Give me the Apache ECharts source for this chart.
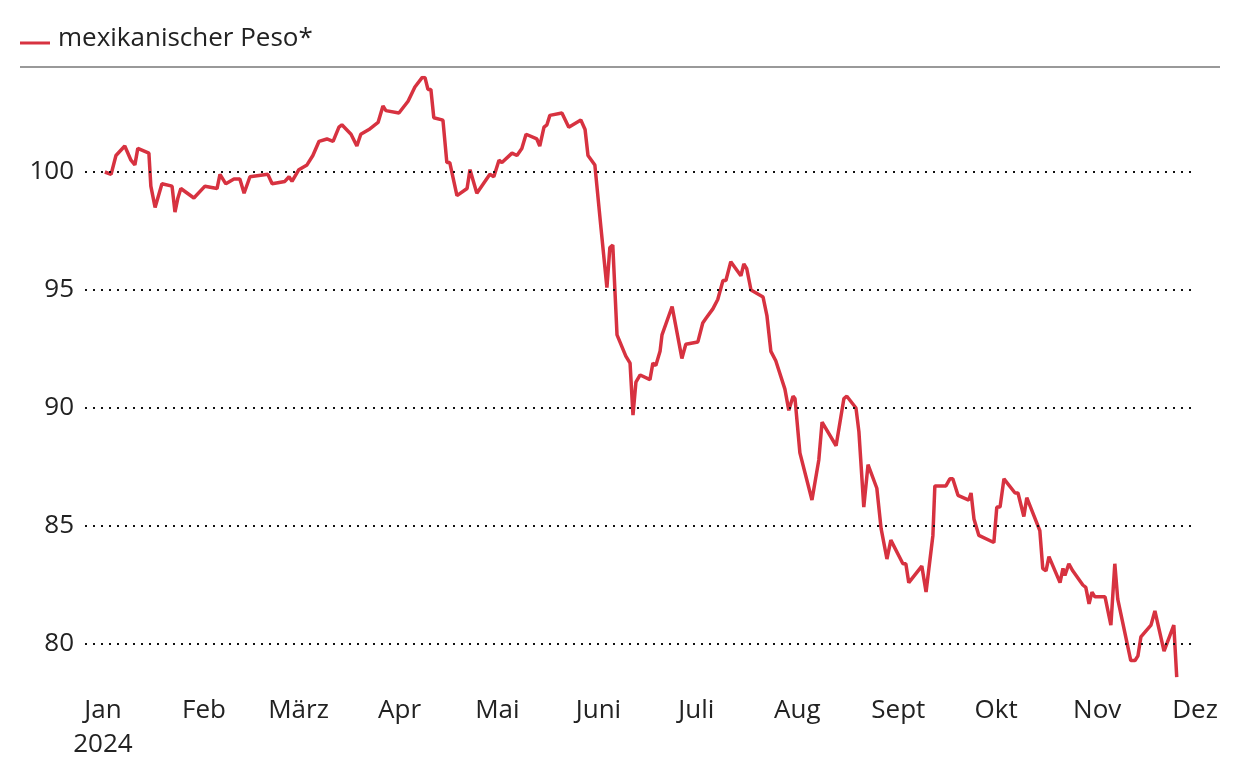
<!DOCTYPE html>
<html>
<head>
<meta charset="utf-8">
<script src="https://cdn.jsdelivr.net/npm/echarts@6/dist/echarts.min.js"></script>
<style>
  html, body { margin: 0; padding: 0; background: #fff; }
  #chart { width: 1240px; height: 782px; }
</style>
</head>
<body>
<div id="chart"></div>
<script>
// Tage seit 1. Jan 2024 und Kurswerte (Index, 1. Jan = 100)
const days = [0.6,2.5,4,6.7,8.6,9.8,10.7,14.1,14.7,16,18.1,21.2,22.1,23,23.9,27.9,31.3,35,35.9,37.7,40.2,42,43.3,45.1,50.6,51.9,55.8,57.1,58,60.1,62.6,64.4,66.3,68.7,70.6,72.4,73.3,76.1,77.9,79.1,81.6,84.4,85.9,86.8,90.8,93.6,95.7,97.9,98.8,99.7,100.6,101.5,104.3,105.5,106.4,108.6,111.7,112.6,114.7,118.7,119.9,121.5,122.4,125.5,127,128.5,129.8,133.1,134,135.3,136.2,137.1,140.8,142.9,146.6,147.9,148.8,150.9,152.8,154.6,155.5,156.4,157.7,160.4,161.7,162.6,163.5,164.8,167.8,168.7,169.6,170.9,171.5,174.6,177.6,178.8,182.5,184,185,187.1,188.6,190.2,191.1,192.6,195.7,196.6,197.5,198.8,202.5,203.7,204.9,206.4,209.2,210.4,211.7,212.3,213.8,217.5,219.6,220.6,224.9,227.3,228.2,231,231.9,233.4,234.7,237.4,238.7,239.3,240.5,241.7,245.4,246.3,247.2,251.2,252.5,254.6,255.2,258.6,259.8,260.7,262.3,265.6,266.3,267.2,268.7,273.3,274.2,275.2,276.4,279.8,280.7,282.5,283.4,287.4,288.3,289.3,290.2,293.6,294.5,295.1,296.3,297.5,300.6,301.5,302.5,303.4,304.3,307.4,309.2,310.4,311.3,315.3,316.6,317.5,318.4,321.5,322.7,325.5,328.5,329.4]
const values = [100.0,99.9,100.7,101.1,100.5,100.3,101.0,100.8,99.4,98.5,99.5,99.4,98.3,98.9,99.3,98.9,99.4,99.3,99.9,99.5,99.7,99.7,99.1,99.8,99.9,99.5,99.6,99.8,99.6,100.1,100.3,100.7,101.3,101.4,101.3,101.9,102.0,101.6,101.1,101.6,101.8,102.1,102.8,102.6,102.5,103.0,103.6,104.0,104.0,103.5,103.5,102.3,102.2,100.4,100.4,99.0,99.3,100.1,99.1,99.9,99.8,100.5,100.4,100.8,100.7,101.0,101.6,101.4,101.1,101.9,102.0,102.4,102.5,101.9,102.2,101.8,100.7,100.3,97.6,95.1,96.8,96.9,93.1,92.2,91.9,89.7,91.1,91.4,91.2,91.9,91.8,92.4,93.1,94.3,92.1,92.7,92.8,93.6,93.8,94.2,94.6,95.4,95.4,96.2,95.6,96.1,95.9,95.0,94.7,93.9,92.4,92.0,90.8,89.9,90.5,90.4,88.1,86.1,87.8,89.4,88.4,90.4,90.5,90.0,89.0,85.8,87.6,86.6,84.9,84.9,83.6,84.4,83.4,83.4,82.6,83.3,82.2,84.6,86.7,86.7,87.0,87.0,86.3,86.1,86.4,85.3,84.6,84.3,85.8,85.8,87.0,86.4,86.4,85.4,86.2,84.8,83.2,83.1,83.7,82.6,83.2,82.9,83.4,83.1,82.5,82.4,81.7,82.2,82.0,82.0,80.8,83.4,81.9,79.3,79.3,79.5,80.3,80.8,81.4,79.7,80.8,78.6]
const monthStarts = [0, 31, 60, 91, 121, 152, 182, 213, 244, 274, 305, 335]
const monthLabels = ['Jan\n2024', 'Feb', 'März', 'Apr', 'Mai', 'Juni', 'Juli', 'Aug', 'Sept', 'Okt', 'Nov', 'Dez']
const yTicks = [80, 85, 90, 95, 100]
const seriesName = 'mexikanischer Peso*'

const chart = echarts.init(document.getElementById('chart'))
const font = '"Open Sans", Roboto, sans-serif'

chart.setOption({
  animation: false,
  textStyle: { fontFamily: font },
  grid: { left: 85, right: 45, top: 77.6, bottom: 782 - 691.2, containLabel: false },
  graphic: [
    { type: 'line', shape: { x1: 20, y1: 43, x2: 50, y2: 43 }, style: { stroke: '#d73240', lineWidth: 3 } },
    { type: 'text', left: 58, top: 26, style: { text: seriesName, fontSize: 26, fill: '#222', fontFamily: font } },
    { type: 'line', shape: { x1: 20, y1: 67, x2: 1220, y2: 67 }, style: { stroke: '#999', lineWidth: 2 } }
  ],
  xAxis: {
    type: 'value',
    min: -5.5,
    max: 335,
    splitLine: { show: false },
    axisLine: { show: false },
    axisTick: { show: false },
    axisLabel: {
      customValues: monthStarts,
      formatter: v => monthLabels[monthStarts.indexOf(v)],
      fontSize: 26,
      color: '#222',
      margin: 2,
      lineHeight: 34,
      verticalAlign: 'top'
    }
  },
  yAxis: {
    type: 'value',
    min: 78,
    max: 104,
    axisLine: { show: false },
    axisTick: { show: false },
    axisLabel: {
      customValues: yTicks,
      fontSize: 26,
      color: '#222',
      margin: 11
    },
    splitLine: { show: false }
  },
  series: [
    {
      name: seriesName,
      type: 'line',
      data: days.map((d, i) => [d, values[i]]),
      showSymbol: false,
      lineStyle: { color: '#d73240', width: 3.5 },
      markLine: {
        silent: true,
        symbol: 'none',
        label: { show: false },
        lineStyle: { type: [2, 6], color: '#111', width: 2 },
        data: yTicks.map(v => ({ yAxis: v }))
      }
    }
  ]
})
</script>
</body>
</html>
